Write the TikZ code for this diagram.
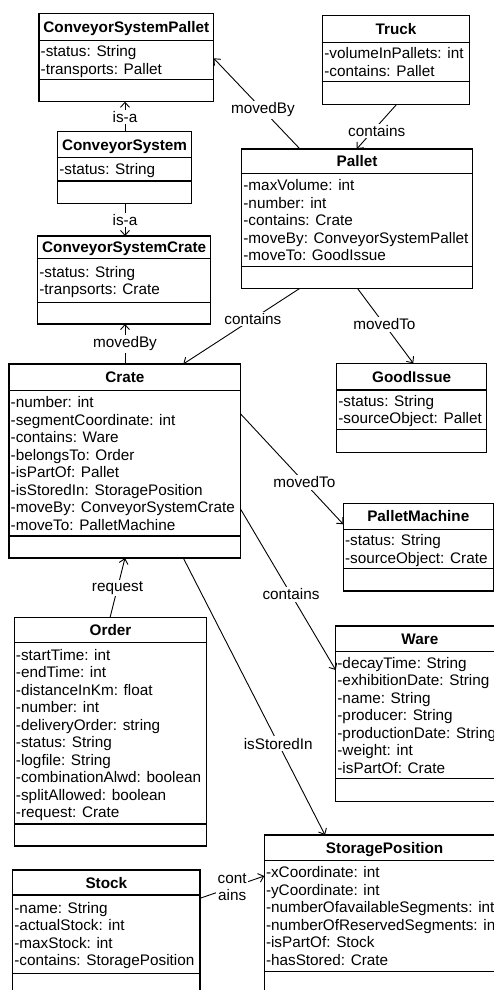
\documentclass[tikz,border=0pt]{standalone}
\usepackage{fontspec}
\setmainfont{Liberation Sans}
\usetikzlibrary{arrows.meta,calc}

\newcommand\umlfont{\fontsize{15.3}{17.5}\selectfont}

\tikzset{
  classbox/.style={draw, fill=white, line width=1.1pt, rectangle, inner sep=0pt, outer sep=0pt},
  classline/.style={line width=1.1pt},
  classtitle/.style={anchor=base, inner sep=0pt, font=\umlfont\bfseries},
  classattrs/.style={anchor=west, inner sep=0pt, font=\umlfont},
  assoc/.style={line width=0.9pt, -{Straight Barb[length=5pt,width=9pt]}},
  edgelabel/.style={fill=white, inner sep=1.5pt, font=\umlfont},
}

% #1 name, #2 left, #3 top, #4 width, #5 header height,
% #6 attribute height, #7 operation height, #8 title, #9 attributes
\newcommand\umlclass[9]{%
  \node[classbox, anchor=north west, minimum width=#4pt,
        minimum height={(#5+#6+#7)*1pt}] (#1) at (#2,#3) {};
  \draw[classline] ($(#1.north west)+(0,#5)$) -- ($(#1.north east)+(0,#5)$);
  \draw[classline] ($(#1.north west)+(0,#5+#6)$) -- ($(#1.north east)+(0,#5+#6)$);
  \node[classtitle] (#1-title) at ($(#1.north)+(0,#5/2+5.5)$) {#8};
  \node[classattrs] (#1-attrs) at ($(#1.north west)+(1.5,#5+#6/2+2)$)
       {\begin{tabular}{@{}l@{}}#9\end{tabular}};
}

\begin{document}
\begin{tikzpicture}[x=1pt,y=-1pt]
\useasboundingbox (0,0) rectangle (494,990);
\clip (0,0) rectangle (494,990);
\fill[white] (0,0) rectangle (494,990);

% classes
\umlclass{cspallet}{39}{13.7}{174.7}{26.6}{39}{22.4}{ConveyorSystemPallet}
  {-status: String\\-transports: Pallet}
\umlclass{truck}{322.7}{15.7}{146.6}{27}{39}{22.6}{Truck}
  {-volumeInPallets: int\\-contains: Pallet}
\umlclass{cs}{57.7}{131.7}{133.6}{26}{23.3}{22.3}{ConveyorSystem}
  {-status: String}
\umlclass{pallet}{241.7}{149}{230.6}{24.3}{93.4}{22}{Pallet}
  {-maxVolume: int\\-number: int\\-contains: Crate\\-moveBy: ConveyorSystemPallet\\-moveTo: GoodIssue}
\umlclass{cscrate}{37.7}{236}{173}{22.5}{43.8}{21.7}{ConveyorSystemCrate}
  {-status: String\\-tranpsorts: Crate}
\umlclass{goodissue}{336.7}{363.3}{150}{26.7}{39.3}{23}{GoodIssue}
  {-status: String\\-sourceObject: Pallet}
\umlclass{crate}{9}{364}{231.7}{26.7}{145.3}{22}{Crate}
  {-number: int\\-segmentCoordinate: int\\-contains: Ware\\-belongsTo: Order\\-isPartOf: Pallet\\-isStoredIn: StoragePosition\\-moveBy: ConveyorSystemCrate\\-moveTo: PalletMachine}
\umlclass{palletmachine}{343.3}{503.3}{150}{26}{39}{22.7}{PalletMachine}
  {-status: String\\-sourceObject: Crate}
\umlclass{order}{14.3}{617.7}{192.4}{25}{181.3}{22}{Order}
  {-startTime: int\\-endTime: int\\-distanceInKm: float\\-number: int\\-deliveryOrder: string\\-status: String\\-logfile: String\\-combinationAlwd: boolean\\-splitAllowed: boolean\\-request: Crate}
\umlclass{ware}{335.7}{626}{168.3}{25.7}{126.6}{23.4}{Ware}
  {-decayTime: String\\-exhibitionDate: String\\-name: String\\-producer: String\\-productionDate: String\\-weight: int\\-isPartOf: Crate}
\umlclass{stock}{12.7}{870}{187.3}{25}{78.3}{23}{Stock}
  {-name: String\\-actualStock: int\\-maxStock: int\\-contains: StoragePosition}
\umlclass{sp}{264.3}{835}{240.7}{25.7}{111}{23}{StoragePosition}
  {-xCoordinate: int\\-yCoordinate: int\\-numberOfavailableSegments: int\\-numberOfReservedSegments: int\\-isPartOf: Stock\\-hasStored: Crate}

% associations
\draw[assoc] ($(cs.north west)+(67.3,0)$) -- node[edgelabel]{is-a} ($(cspallet.south west)+(86,0)$);
\draw[assoc] ($(cs.south west)+(67.3,0)$) -- node[edgelabel]{is-a} ($(cscrate.north west)+(87.3,0)$);
\draw[assoc] ($(crate.north west)+(116,0)$) -- node[edgelabel]{movedBy} ($(cscrate.south west)+(87.3,0)$);
\draw[assoc] ($(pallet.north west)+(58.3,0)$) -- node[edgelabel,pos=0.43]{movedBy} ($(cspallet.north east)+(0,44.6)$);
\draw[assoc] ($(truck.south west)+(74,0)$) -- node[edgelabel,pos=0.6,xshift=4pt]{contains} ($(pallet.north west)+(115,0)$);
\draw[assoc] ($(pallet.south west)+(57.6,0)$) -- node[edgelabel,pos=0.4]{contains} ($(crate.north west)+(174.3,0)$);
\draw[assoc] ($(pallet.south west)+(116,0)$) -- node[edgelabel,pos=0.48]{movedTo} ($(goodissue.north west)+(76.6,0)$);
\draw[assoc] ($(crate.north east)+(0,50)$) -- node[edgelabel,pos=0.62]{movedTo} ($(palletmachine.north west)+(0,21)$);
\draw[assoc] ($(crate.north east)+(0,145.3)$) -- node[edgelabel,pos=0.53]{contains} ($(ware.north west)+(0,44)$);
\draw[assoc] ($(crate.south west)+(174.3,0)$) -- node[edgelabel,pos=0.67]{isStoredIn} ($(sp.north west)+(60.7,0)$);
\draw[assoc] ($(order.north west)+(95.7,0)$) -- node[edgelabel]{request} ($(crate.south west)+(116,0)$);
\draw[assoc] ($(stock.north east)+(0,28.3)$) -- node[edgelabel,align=center]{cont\\ains} ($(sp.north west)+(0,41)$);
\end{tikzpicture}
\end{document}
